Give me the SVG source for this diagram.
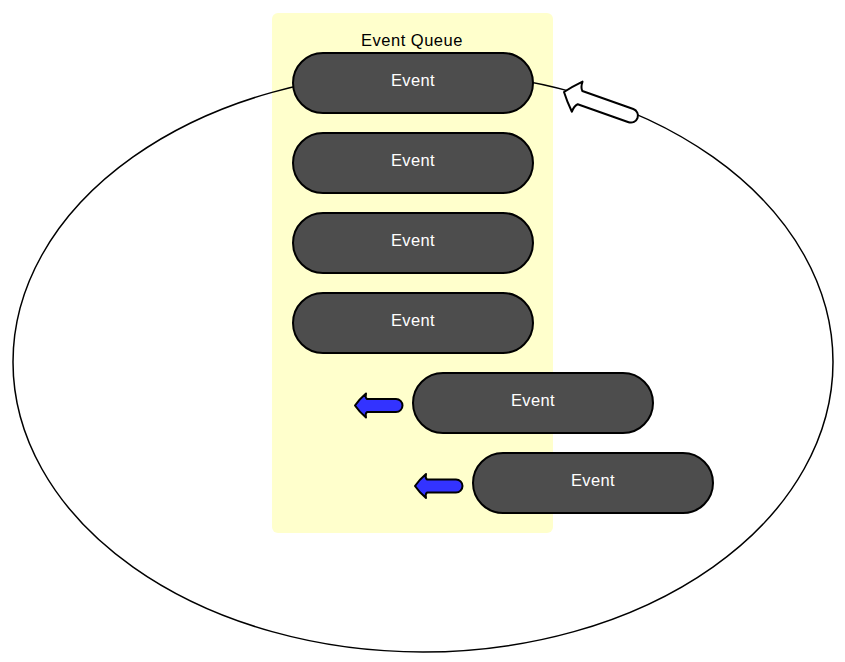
<svg xmlns="http://www.w3.org/2000/svg" width="845" height="662" viewBox="0 0 845 662">
<style>
.pill{fill:#4d4d4d;stroke:#000;stroke-width:2}
.lbl{font-family:"Liberation Sans",Arial,sans-serif;font-size:16.5px;letter-spacing:0.4px;fill:#fff;text-anchor:middle}
.title{font-family:"Liberation Sans",Arial,sans-serif;font-size:16.5px;letter-spacing:0.5px;fill:#000;text-anchor:middle}
.barrow{fill:#3333ff;stroke:#000;stroke-width:2;stroke-linejoin:round}
</style>
<rect width="845" height="662" fill="#fff"/>
<g id="queue">
<rect x="272" y="13" width="281" height="520" rx="6" fill="#ffffcc"/>
<text class="title" x="412" y="46">Event Queue</text>
</g>
<g id="connectors">
<ellipse cx="423" cy="362" rx="410" ry="290" fill="none" stroke="#000" stroke-width="1.5"/>
<path transform="translate(564,92) rotate(19.4)" d="M0,0 Q6,-8 14,-16 Q14,-10 17,-7 L71,-7 A7,7 0 0 1 71,7 L17,7 Q14,10 14,16 Q6,8 0,0 Z" fill="#fff" stroke="#000" stroke-width="2" stroke-linejoin="round"/>
<path class="barrow" transform="translate(355,405.5)" d="M0,0 Q4,-6 11,-12 Q10,-8 12,-6.5 L41,-6.5 A6.5,6.5 0 0 1 41,6.5 L12,6.5 Q10,8 11,12 Q4,6 0,0 Z"/>
<path class="barrow" transform="translate(415,486)" d="M0,0 Q4,-6 11,-12 Q10,-8 12,-6.5 L41,-6.5 A6.5,6.5 0 0 1 41,6.5 L12,6.5 Q10,8 11,12 Q4,6 0,0 Z"/>
</g>
<g id="event1"><rect class="pill" x="293" y="53" width="240" height="60" rx="30"/><text class="lbl" x="413" y="86">Event</text></g>
<g id="event2"><rect class="pill" x="293" y="133" width="240" height="60" rx="30"/><text class="lbl" x="413" y="166">Event</text></g>
<g id="event3"><rect class="pill" x="293" y="213" width="240" height="60" rx="30"/><text class="lbl" x="413" y="246">Event</text></g>
<g id="event4"><rect class="pill" x="293" y="293" width="240" height="60" rx="30"/><text class="lbl" x="413" y="326">Event</text></g>
<g id="event5"><rect class="pill" x="413" y="373" width="240" height="60" rx="30"/><text class="lbl" x="533" y="406">Event</text></g>
<g id="event6"><rect class="pill" x="473" y="453" width="240" height="60" rx="30"/><text class="lbl" x="593" y="486">Event</text></g>
</svg>
